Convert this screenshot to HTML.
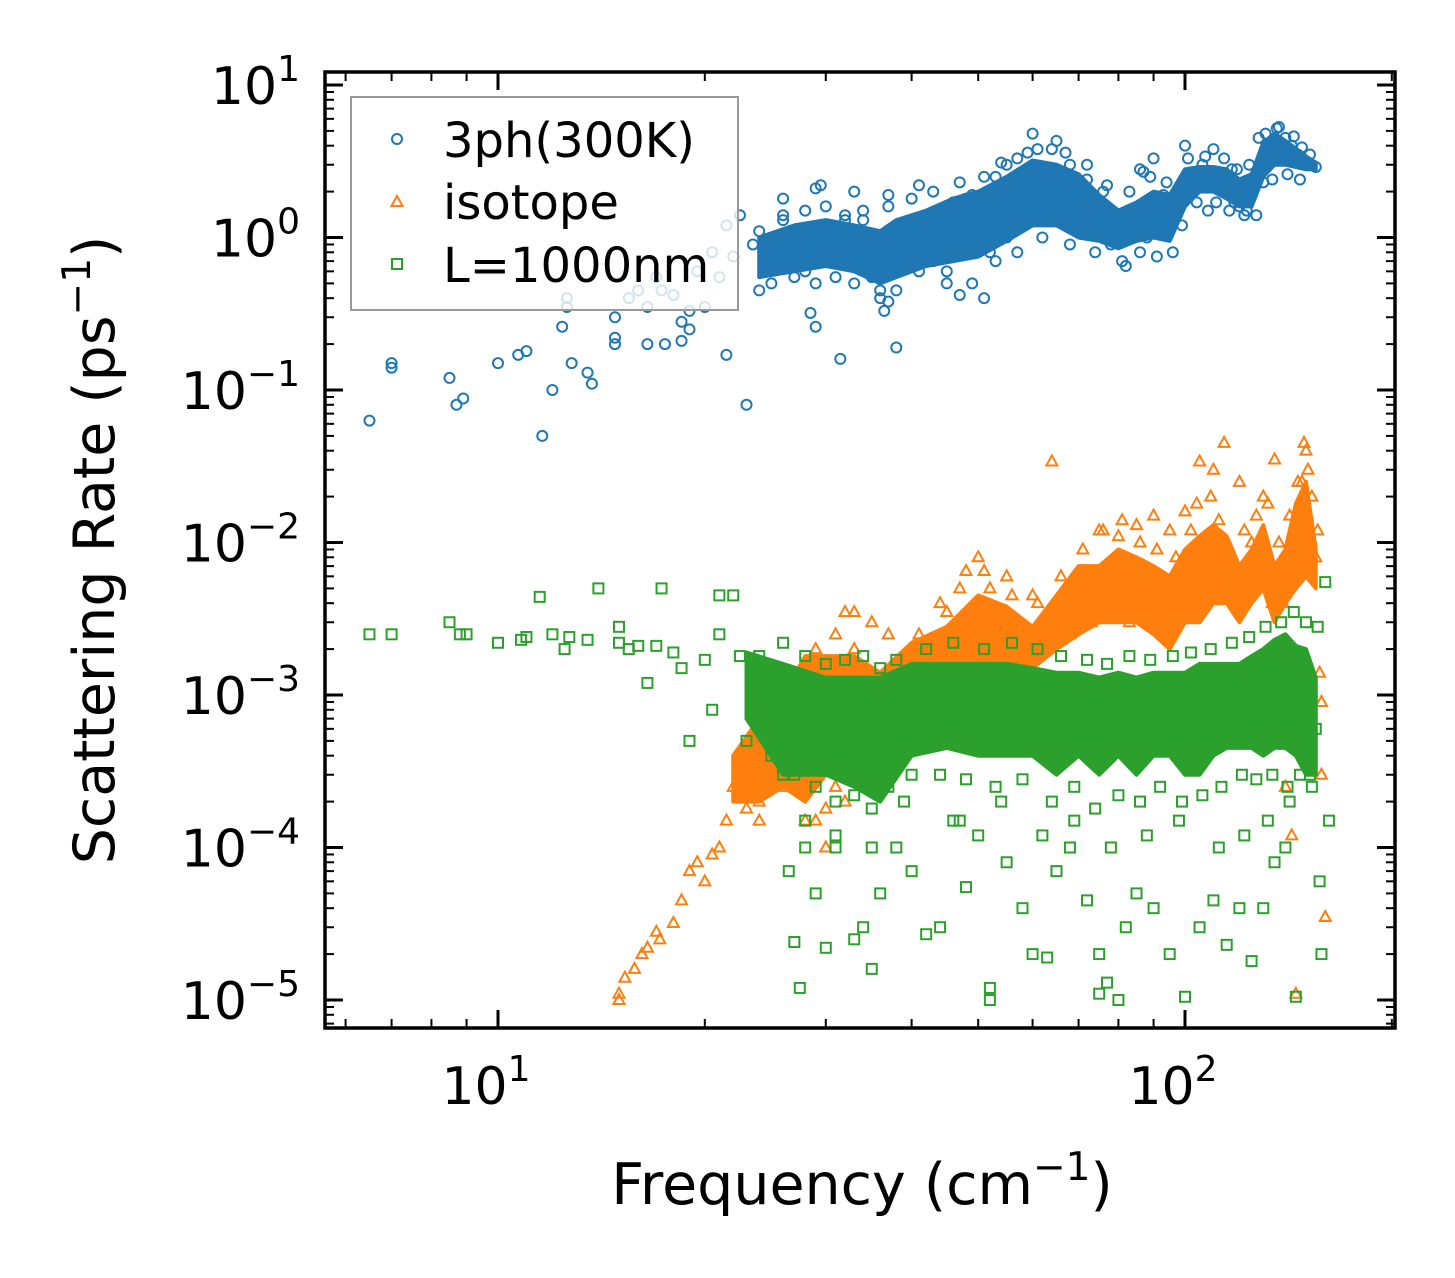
<!DOCTYPE html>
<html><head><meta charset="utf-8"><style>
html,body{margin:0;padding:0;background:#fff;width:1455px;height:1278px;overflow:hidden}
svg text{font-family:"DejaVu Sans","Liberation Sans",sans-serif;fill:#000}
</style></head><body>
<svg id="chart" width="1455" height="1278" viewBox="0 0 1455 1278" xmlns="http://www.w3.org/2000/svg" style="position:absolute;left:0;top:0">
<rect width="1455" height="1278" fill="#fff"/>
<g id="bands"></g><g id="marks"></g><g id="axes"></g>
</svg>
<script>
// ---- data (frequency cm^-1, rate ps^-1) ----
const blueF=[6.5,7,7,8.5,8.7,8.9,10,10.7,11,11.6,12,12.4,12.6,12.6,12.8,13.5,13.7,14.8,14.8,14.8,15.5,16,16.5,16.5,17,17.3,17.5,18,18.5,18.5,19,19,19.5,20,20.5,21,21.5,21.5,22,22.5,23,23.5,24,25,26,27,28,28.5,29,29.5,30,31,31.5,32,33,34,35,36,36.5,37,38,39,40,42,43,44,45,46,47,48,50,51,52,54,55,56,58,60,62,63,65,66,68,70,72,73,75,76,78,80,82,84,86,88,90,92,94,96,98,100,103,106,110,113,117,120,125,128,130,133,136,140,143,146,150,155,26,29,33,37,41,44,49,53,57,61,67,71,79,87,93,97,108,118,123,138,148];
const blueR=[0.063,0.15,0.14,0.12,0.08,0.088,0.15,0.17,0.18,0.05,0.1,0.26,0.4,0.35,0.15,0.13,0.11,0.3,0.22,0.2,0.4,0.45,0.35,0.2,0.55,0.45,0.2,0.42,0.28,0.21,0.25,0.33,0.6,0.35,0.8,0.55,0.17,1.2,0.75,1.4,0.08,0.9,1.1,0.65,1.4,0.85,0.6,0.32,0.26,2.2,1.0,0.9,0.16,1.3,0.8,1.5,0.6,0.45,0.33,0.38,0.19,1.0,0.8,1.2,0.7,1.5,0.5,1.7,0.42,1.8,1.5,0.4,0.8,3.1,1.0,1.8,2.2,4.8,1.5,2.5,4.3,2.0,3.0,1.8,2.4,1.2,1.5,2.0,0.9,1.2,0.65,1.5,2.8,1.0,3.3,1.8,1.3,0.8,1.8,4.0,2.6,3.0,3.8,2.2,2.8,1.6,2.0,4.5,2.3,3.2,5.2,4.5,4.0,3.5,3.0,2.9,1.8,2.1,2.0,1.9,2.2,1.3,1.9,2.5,3.3,3.8,3.6,1.9,1.1,2.7,1.9,1.6,1.5,1.7,1.5,3.8,3.9];
const blueEdgeF=[24,25,26,27,28,29,30,31,32,33,34,35,36,37,38,40,41,43,45,47,49,51,53,55,57,59,62,64,68,72,74,77,81,83,86,89,91,94,99,101,104,107,111,114,116,119,122,124,127,131,134,137,141,144,147,152];
const blueEdgeR=[0.45,0.5,1.3,0.55,1.5,0.5,1.6,0.55,1.4,0.5,1.3,0.55,0.4,1.6,0.45,1.8,0.6,2.0,0.6,2.3,0.5,2.5,0.7,3.0,0.8,3.6,1.0,3.8,0.9,3.0,0.8,2.2,0.7,2.0,0.8,2.5,0.75,2.3,1.2,3.3,1.7,3.4,1.7,3.3,1.5,2.8,1.4,3.0,1.4,4.8,2.4,5.3,2.6,4.6,2.4,3.5];
const blueBandF=[24,27,30,33,36,38,42,46,50,55,60,65,70,75,80,85,90,95,100,105,110,115,120,125,130,135,140,150,155];
const blueBandLo=[0.55,0.6,0.65,0.6,0.5,0.55,0.65,0.7,0.75,0.95,1.2,1.2,1.0,0.95,0.85,0.95,1.0,0.95,1.6,2.0,2.0,1.8,1.6,1.6,2.5,3.0,3.0,2.8,2.8];
const blueBandHi=[1.0,1.2,1.3,1.2,1.1,1.3,1.5,1.8,2.0,2.5,3.2,3.0,2.6,1.9,1.5,1.7,2.0,1.9,2.8,2.9,2.9,2.8,2.4,2.6,4.2,4.8,4.3,3.4,3.1];

const orgF=[15,15,15.3,15.8,16.2,16.5,17,17.2,18,18.5,19,19.5,20,20.5,21,21.5,22,23,23.5,24,25,26,28,29,30,31,32,35,38,40,45,48,50,52,55,62,64,70,75,80,90,100,105,110,114,120,125,135,140,140,143,145,150,155,157,158,158,160,60,85,95,130,148,27,33,42];
const orgR=[0.00001,0.000011,0.000014,0.000016,0.00002,0.000022,0.000028,0.000025,0.000032,0.000045,0.00007,0.00008,0.00006,0.00009,0.0001,0.00015,0.00025,0.00018,0.0003,0.00015,0.0004,0.0006,0.0008,0.00015,0.0001,0.00025,0.0035,0.003,0.0013,0.0006,0.0035,0.0065,0.008,0.005,0.006,0.003,0.034,0.004,0.012,0.011,0.015,0.016,0.034,0.03,0.045,0.025,0.01,0.035,0.0018,0.00025,0.00012,0.000011,0.04,0.008,0.0014,0.0009,0.0003,0.000035,0.0045,0.013,0.012,0.02,0.025,0.0012,0.002,0.0022];
const orgEdgeF=[23,24,25,26,27,28,29,30,31,32,33,34,37,39,41,43,44,46,47,49,51,53,56,58,61,63,66,68,71,73,76,78,81,83,86,88,91,93,97,102,104,107,109,112,116,118,122,124,127,129,132,134,137,139,142,146,149,151,153,156];
const orgEdgeR=[0.0003,0.0002,0.0006,0.00025,0.0012,0.00015,0.002,0.00018,0.0025,0.0002,0.0035,0.0009,0.0025,0.001,0.0025,0.0012,0.004,0.0015,0.005,0.0018,0.0065,0.002,0.0045,0.0018,0.004,0.002,0.006,0.0025,0.009,0.003,0.012,0.0035,0.014,0.003,0.01,0.003,0.009,0.0025,0.008,0.012,0.018,0.008,0.02,0.014,0.009,0.004,0.012,0.005,0.015,0.006,0.018,0.004,0.01,0.004,0.015,0.025,0.045,0.03,0.02,0.012];
const orgBandF=[22,24,26,28,30,33,36,40,45,50,55,60,65,70,75,80,85,90,95,100,105,110,115,120,125,130,135,140,145,150,155];
const orgBandLo=[0.0002,0.0002,0.00025,0.0002,0.0003,0.0005,0.0005,0.0008,0.001,0.0015,0.0015,0.0015,0.002,0.0025,0.003,0.003,0.003,0.0025,0.002,0.003,0.003,0.004,0.004,0.003,0.004,0.005,0.003,0.004,0.005,0.006,0.005];
const orgBandHi=[0.0004,0.0007,0.001,0.0018,0.0018,0.0018,0.0014,0.0022,0.0028,0.0045,0.0038,0.0028,0.0045,0.007,0.007,0.009,0.008,0.007,0.006,0.009,0.011,0.013,0.011,0.007,0.009,0.013,0.007,0.009,0.018,0.025,0.009];

const grnF=[6.5,7,8.5,8.8,9,10,10.8,11,11.5,12,12.5,12.7,13.5,14,15,15,15.5,16,16.5,17,17.3,18,18.5,19,20,20.5,21,21,22,22.5,23,23.5,24,25,26,26.5,27,27.5,28,29,30,31,33,34,35,36,38,40,42,44,46,48,50,52,52,55,58,60,63,65,68,72,75,75,77,80,82,85,90,95,100,105,110,115,120,125,130,135,140,145,155,157,158,160,162,28,31,35,39,47,54,62,69,78,88,98,112,122,132,142,152];
const grnR=[0.0025,0.0025,0.003,0.0025,0.0025,0.0022,0.0023,0.0024,0.0044,0.0025,0.002,0.0024,0.0023,0.005,0.0028,0.0022,0.002,0.0021,0.0012,0.0021,0.005,0.0019,0.0015,0.0005,0.0017,0.0008,0.0045,0.0025,0.0045,0.0018,0.0005,0.0012,0.0015,0.0006,0.0003,0.00007,0.000024,0.000012,0.0001,0.00005,0.000022,0.0001,0.000025,0.00003,0.000016,0.00005,0.0001,0.00007,0.000027,0.00003,0.00015,0.000055,0.00012,0.000012,0.00001,0.00008,0.00004,0.00002,0.000019,0.00007,0.0001,0.000045,0.00002,0.000011,0.000013,0.00001,0.00003,0.00005,0.00004,0.00002,0.0000105,0.00003,0.000045,0.000023,0.00004,0.000018,0.00004,0.00008,0.0001,0.0000105,0.0006,0.00006,0.00002,0.0055,0.00015,0.00015,0.00012,0.0001,0.0002,0.00015,0.0002,0.00012,0.00015,0.0001,0.00012,0.00015,0.0001,0.00012,0.00015,0.0002,0.0003];
const grnEdgeF=[24,25,26,27,28,29,30,31,32,33,34,35,36,37,38,40,42,44,46,48,51,53,56,58,61,64,66,69,72,74,77,80,83,86,89,92,96,99,102,106,109,113,117,121,124,127,131,134,138,141,144,147,150,153,156];
const grnEdgeR=[0.0018,0.0004,0.0022,0.0003,0.0018,0.00025,0.0016,0.0002,0.0017,0.00022,0.0018,0.00018,0.0015,0.00025,0.0017,0.0003,0.002,0.0003,0.0022,0.00028,0.002,0.00025,0.0022,0.00028,0.002,0.0002,0.0018,0.00025,0.0017,0.00018,0.0016,0.00022,0.0018,0.0002,0.0017,0.00025,0.0018,0.0002,0.0019,0.00022,0.002,0.00025,0.0022,0.0003,0.0024,0.00028,0.0028,0.0003,0.003,0.00025,0.0035,0.0003,0.003,0.00025,0.0028];
const grnBandF=[23,26,30,33,36,40,45,50,55,60,65,70,75,80,85,90,95,100,105,110,115,120,125,130,135,140,145,150,155];
const grnBandLo=[0.0007,0.0003,0.0003,0.00025,0.0002,0.0004,0.00045,0.0004,0.0004,0.0004,0.0003,0.0004,0.0003,0.0004,0.0003,0.0004,0.0004,0.0003,0.0003,0.0004,0.00045,0.00045,0.00045,0.0004,0.00045,0.00045,0.0004,0.0003,0.0003];
const grnBandHi=[0.0019,0.0016,0.0013,0.0013,0.0013,0.0016,0.0016,0.0016,0.0016,0.0015,0.0014,0.0014,0.0013,0.0014,0.0013,0.0014,0.0014,0.0014,0.0016,0.0016,0.0016,0.0016,0.0018,0.002,0.0023,0.0025,0.0021,0.002,0.0013];

const xTickVals=[10,100];
const xTickExp=["1","2"];
const yTickVals=[10,1,0.1,0.01,0.001,0.0001,0.00001];
const yTickExp=["1","0","\u22121","\u22122","\u22123","\u22124","\u22125"];

// ---- axes ----
const L=325,R=1395,T=72,B=1028;
const X=f=>498+687*Math.log10(f/10);
const Y=r=>237.5-152.5*Math.log10(r);
const NS="http://www.w3.org/2000/svg";
function mk(tag,attrs,parent){const e=document.createElementNS(NS,tag);for(const k in attrs)e.setAttribute(k,attrs[k]);parent.appendChild(e);return e;}
const bands=document.getElementById('bands'),marks=document.getElementById('marks'),axes=document.getElementById('axes');

function band(F,Lo,Hi,color,name,parent){
  let d='M'+F.map((f,i)=>X(f).toFixed(1)+','+Y(Hi[i]).toFixed(1)).join('L');
  for(let i=F.length-1;i>=0;i--)d+='L'+X(F[i]).toFixed(1)+','+Y(Lo[i]).toFixed(1);
  const p=mk('path',{d:d+'Z',fill:color,stroke:color,'stroke-width':4,'stroke-linejoin':'round'},parent);
  
  
}
function marker(type,cx,cy,color,parent){
  let e;
  if(type==='o')e=mk('circle',{cx:cx,cy:cy,r:5,fill:'none',stroke:color,'stroke-width':2},parent);
  else if(type==='^')e=mk('polygon',{points:`${cx},${cy-6} ${cx+5.5},${cy+4} ${cx-5.5},${cy+4}`,fill:'none',stroke:color,'stroke-width':2},parent);
  else e=mk('rect',{x:cx-5,y:cy-5,width:10,height:10,fill:'none',stroke:color,'stroke-width':2},parent);
  return e;
}
function series(F,Rr,type,color,name){
  F.forEach((f,i)=>{const e=marker(type,X(f),Y(Rr[i]),color,marks);
    
    });
}
band(blueBandF,blueBandLo,blueBandHi,'#1f77b4','band-3ph',bands);
series(blueF,blueR,'o','#1f77b4','point-3ph');
series(blueEdgeF,blueEdgeR,'o','#1f77b4','point-3ph');
band(orgBandF,orgBandLo,orgBandHi,'#ff7f0e','band-isotope',marks);
series(orgF,orgR,'^','#ff7f0e','point-isotope');
series(orgEdgeF,orgEdgeR,'^','#ff7f0e','point-isotope');
band(grnBandF,grnBandLo,grnBandHi,'#2ca02c','band-boundary',marks);
series(grnF,grnR,'s','#2ca02c','point-boundary');
series(grnEdgeF,grnEdgeR,'s','#2ca02c','point-boundary');

// ticks
function line(x1,y1,x2,y2,w){mk('line',{x1,y1,x2,y2,stroke:'#000','stroke-width':w},axes);}
for(let e=0;e<=2;e++)for(let m=1;m<10;m++){const v=m*Math.pow(10,e);const x=X(v);if(x<L||x>R)continue;
  const len=m===1?18:9,w=m===1?3:2;line(x,B,x,B-len,w);line(x,T,x,T+len,w);}
for(let e=-6;e<=1;e++)for(let m=1;m<10;m++){const v=m*Math.pow(10,e);const y=Y(v);if(y<T||y>B)continue;
  const len=m===1?18:9,w=m===1?3:2;line(L,y,L+len,y,w);line(R,y,R-len,y,w);}
const fr=mk('rect',{x:L,y:T,width:R-L,height:B-T,fill:'none',stroke:'#000','stroke-width':3.5},axes);



xTickVals.forEach((v,i)=>{const t=mk('text',{x:X(v)-12,y:1104,'font-size':52,'text-anchor':'middle'},axes);
  
  
  t.innerHTML='10<tspan dy="-23" font-size="36">'+xTickExp[i]+'</tspan>';});
yTickVals.forEach((v,i)=>{const t=mk('text',{x:300,y:Y(v)+19,'font-size':52,'text-anchor':'end'},axes);
  
  
  t.innerHTML='10<tspan dy="-23" font-size="36">'+yTickExp[i]+'</tspan>';});
</script>
<svg style="position:absolute;left:0;top:0" width="1455" height="1278">
<text x="862" y="1204" font-size="57" text-anchor="middle" font-family="DejaVu Sans, Liberation Sans, sans-serif">Frequency (cm<tspan dy="-24" font-size="39">−1</tspan><tspan dy="24">)</tspan></text>
<text transform="translate(114,550) rotate(-90)" font-size="57" text-anchor="middle" font-family="DejaVu Sans, Liberation Sans, sans-serif">Scattering Rate (ps<tspan dy="-24" font-size="39">−1</tspan><tspan dy="24">)</tspan></text>
<g>
<rect x="351" y="97" width="387" height="213" fill="#fff" fill-opacity="0.8" stroke="#999" stroke-width="2"/>
<circle cx="397" cy="139" r="5" fill="none" stroke="#1f77b4" stroke-width="2"/>
<polygon points="397,196 402.5,206 391.5,206" fill="none" stroke="#ff7f0e" stroke-width="2"/>
<rect x="392" y="259" width="10" height="10" fill="none" stroke="#2ca02c" stroke-width="2"/>
<text x="443" y="157" font-size="48" font-family="DejaVu Sans, Liberation Sans, sans-serif">3ph(300K)</text>
<text x="443" y="219" font-size="48" font-family="DejaVu Sans, Liberation Sans, sans-serif">isotope</text>
<text x="443" y="282" font-size="48" font-family="DejaVu Sans, Liberation Sans, sans-serif">L=1000nm</text>
</g>
</svg>
</body></html>
